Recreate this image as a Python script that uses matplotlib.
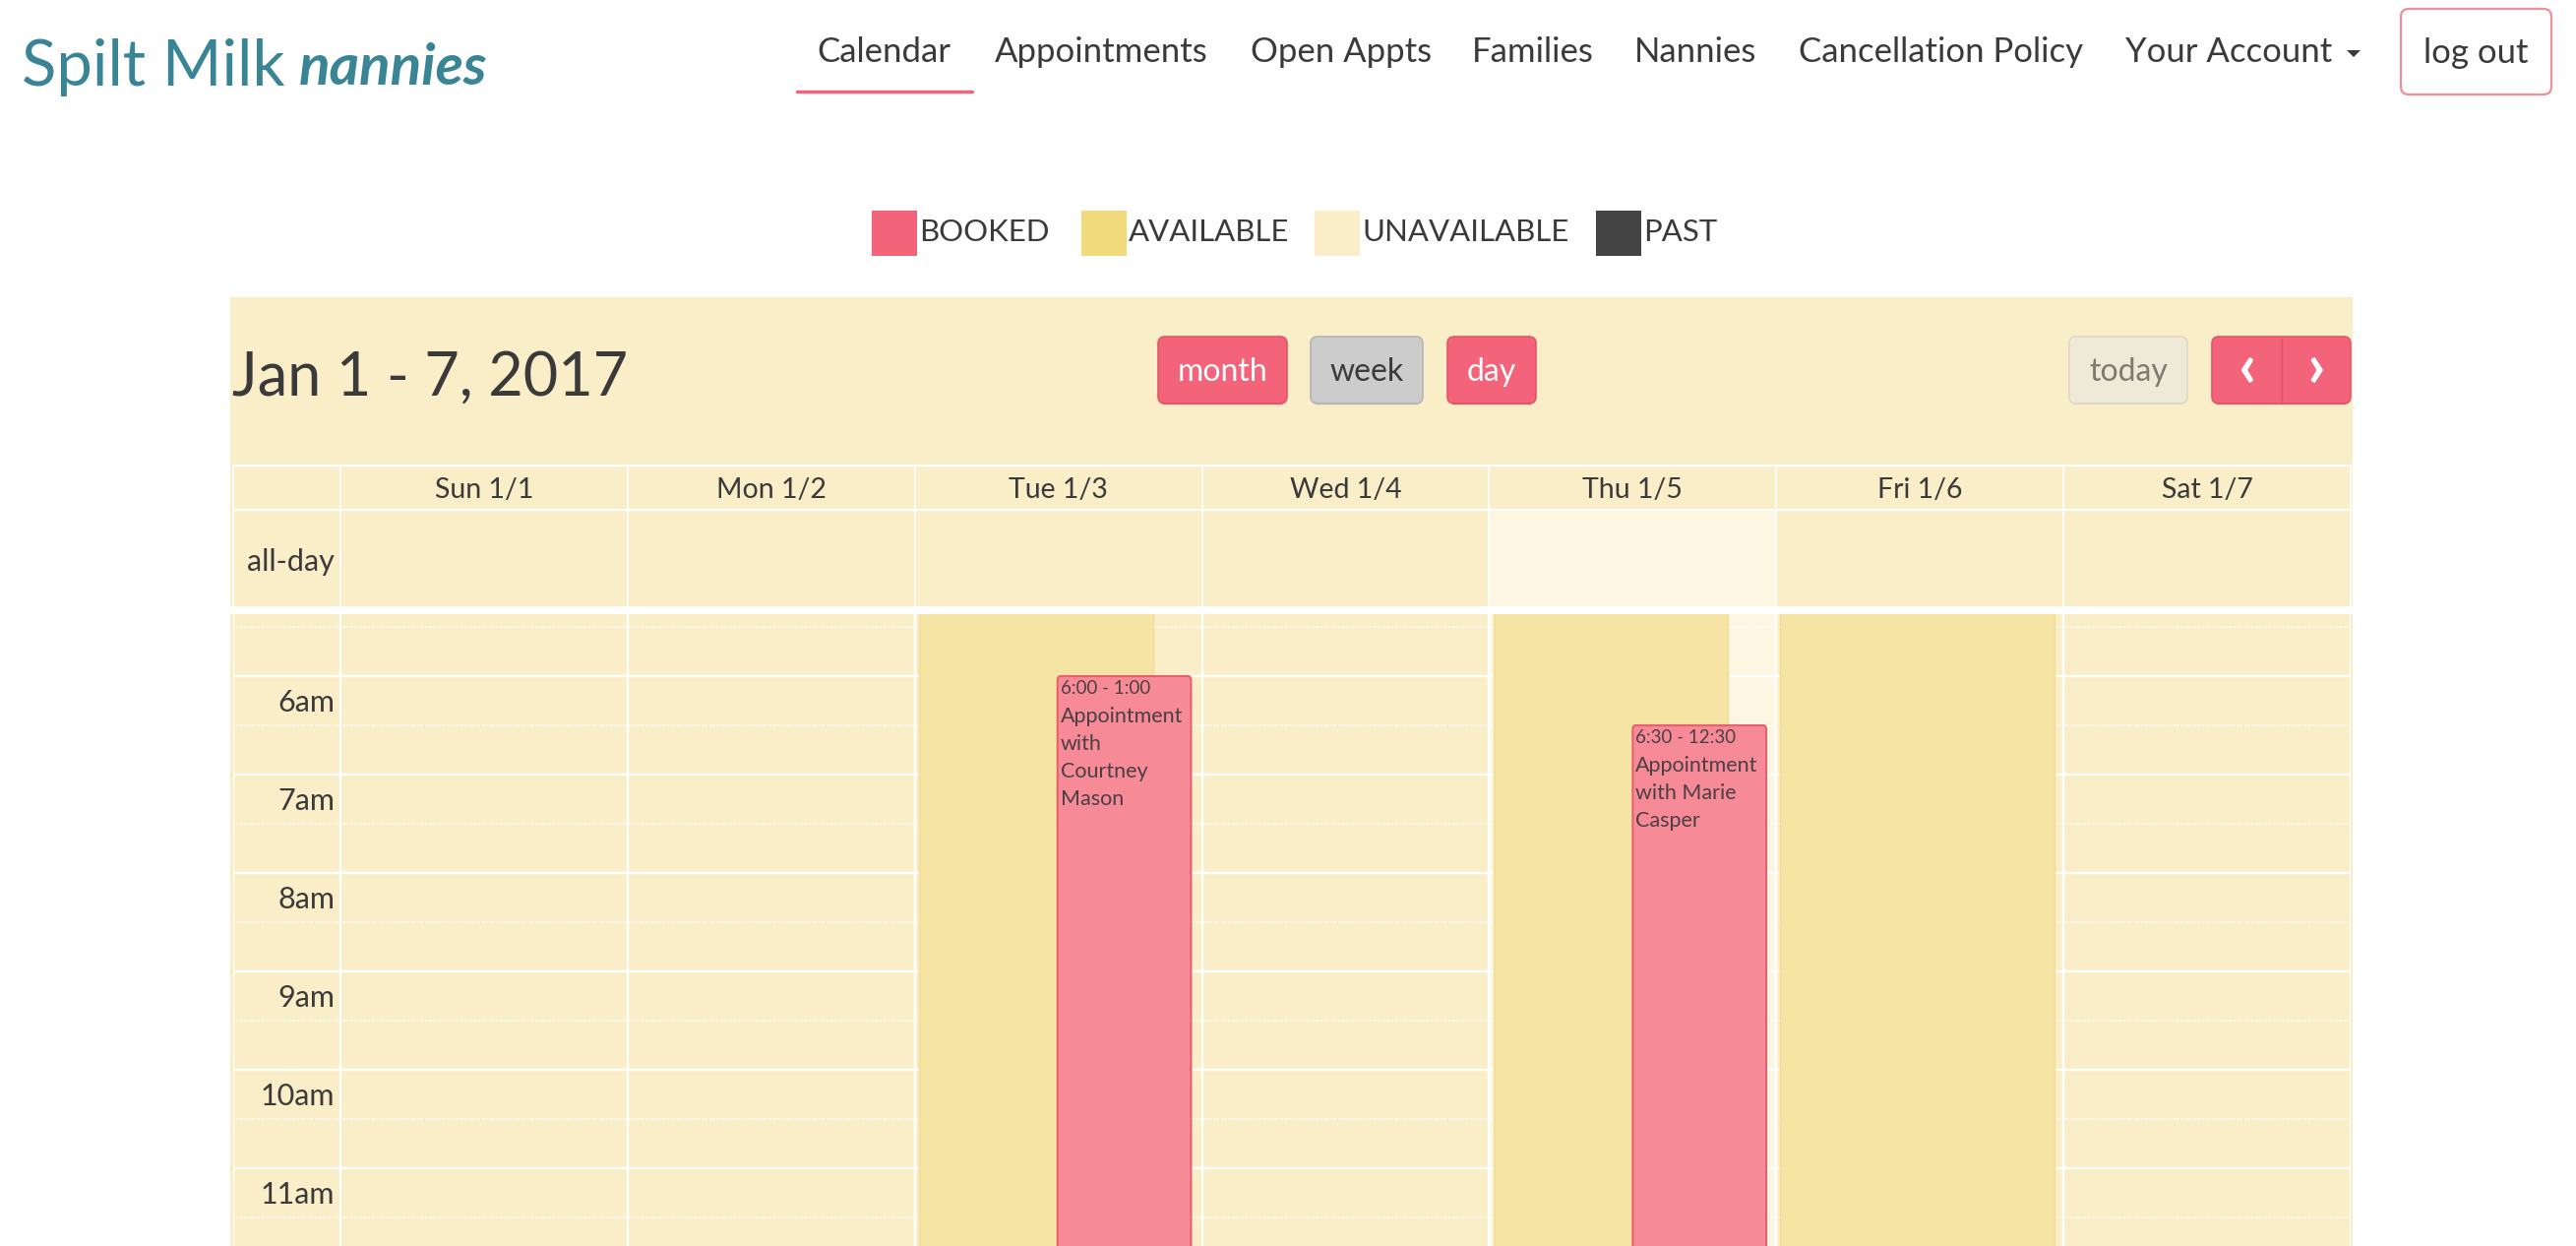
import matplotlib
matplotlib.use('Agg')
import matplotlib.pyplot as plt
from matplotlib.patches import Rectangle, FancyBboxPatch, Polygon

plt.rcParams['font.family'] = ['Lato', 'DejaVu Sans']

# chart data
nav_items = ['Calendar', 'Appointments', 'Open Appts', 'Families', 'Nannies',
             'Cancellation Policy', 'Your Account']
legend_labels = ['BOOKED', 'AVAILABLE', 'UNAVAILABLE', 'PAST']
day_labels = ['Sun 1/1', 'Mon 1/2', 'Tue 1/3', 'Wed 1/4', 'Thu 1/5', 'Fri 1/6', 'Sat 1/7']
hour_values = [5, 6, 7, 8, 9, 10, 11]
hour_labels = ['5am', '6am', '7am', '8am', '9am', '10am', '11am']

# availability blocks, x in day columns, y in hours of the day
avail_x0 = [2.014, 4.017, 5.014]
avail_x1 = [2.83, 4.83, 5.97]
avail_start = [5, 5, 5]
avail_end = [13, 13, 13]

# booked appointments
event_x0 = [2.497, 4.5]
event_x1 = [2.962, 4.965]
event_start = [6.0, 6.5]
event_end = [13.0, 12.5]
event_times = ['6:00 - 1:00', '6:30 - 12:30']
event_titles = [['Appointment', 'with', 'Courtney', 'Mason'],
                ['Appointment', 'with Marie', 'Casper']]

today_column = 4

W, H = 2618, 1266
CREAM = '#faeec8'
LIGHT = '#fdf6e2'
GOLD = '#f6e4a5'
RED = '#f3637a'
PINK = '#f78a97'
INK = '#3a3a3a'
TEAL = '#3a8595'

fig = plt.figure(figsize=(W / 100, H / 100), dpi=100, facecolor='white')

# page axes in image pixels, for the site chrome around the calendar
page = fig.add_axes([0, 0, 1, 1])
page.set_xlim(0, W)
page.set_ylim(H, 0)
page.axis('off')


def button(x0, x1, y0, y1, color, edge, label=None, txt='white', size=23):
    page.add_patch(FancyBboxPatch((x0 + 5, y0 + 5), x1 - x0 - 10, y1 - y0 - 10,
                                  boxstyle='round,pad=5,rounding_size=7',
                                  fc=color, ec=edge, lw=1.2, zorder=4))
    page.plot([x0 + 6, x1 - 6], [y1, y1], color=edge, lw=1.6, zorder=4)
    if label:
        page.text((x0 + x1) / 2, (y0 + y1) / 2 + 2, label, color=txt, fontsize=size,
                  ha='center', va='center', zorder=5)


# logo
page.text(22, 87, 'Spilt Milk', color=TEAL, fontsize=47, va='baseline', ha='left')
page.text(304, 86, 'nannies', color=TEAL, fontsize=42, va='baseline', ha='left',
          style='italic', weight='bold')

# nav
nav_x = [898, 1119, 1363, 1558, 1723, 1972, 2265]
for label, x in zip(nav_items, nav_x):
    page.text(x, 53, label, color=INK, fontsize=25, ha='center', va='center')
page.plot([810, 988], [93, 93], color=RED, lw=2.5, solid_capstyle='round')
page.add_patch(Polygon([[2385, 51], [2399, 51], [2392, 58]], fc=INK, ec='none'))
page.add_patch(FancyBboxPatch((2447, 16), 139, 73, boxstyle='round,pad=7,rounding_size=8',
                              fc='white', ec='#f28d9b', lw=1.6))
page.text(2516, 54, 'log out', color=INK, fontsize=25, ha='center', va='center')

# legend
legend_colors = [RED, '#f0da7c', CREAM, '#444444']
swatch_x = [886, 1099, 1336, 1622]
for label, color, x in zip(legend_labels, legend_colors, swatch_x):
    page.add_patch(Rectangle((x, 214), 46, 46, fc=color, ec='none'))
    page.text(x + 48, 236, label, color=INK, fontsize=22.4, ha='left', va='center')

# calendar toolbar and header
page.add_patch(Rectangle((234, 302), 2157, H - 302, fc=CREAM, ec='none', zorder=1))
page.text(236, 384, 'Jan 1 - 7, 2017', color=INK, fontsize=44, ha='left', va='center', zorder=3)
button(1177, 1308, 342, 410, RED, '#e2566c', 'month')
button(1332, 1446, 342, 410, '#cccccc', '#b5b5b5', 'week', txt=INK)
button(1471, 1561, 342, 410, RED, '#e2566c', 'day')
button(2103, 2223, 342, 410, '#efe9d8', '#ded8c6', 'today', txt='#7d7a70')
button(2248, 2389, 342, 410, RED, '#e2566c')
page.plot([2319, 2319], [344, 408], color='#dd5569', lw=1, zorder=5)
page.text(2283, 374, '\u2039', color='white', fontsize=46, weight='bold', ha='center', va='center', zorder=5)
page.text(2354, 374, '\u203a', color='white', fontsize=46, weight='bold', ha='center', va='center', zorder=5)

# white gap between the all-day row and the time grid
page.add_patch(Rectangle((234, 616), 2157, 8, fc='white', ec='none', zorder=2))

x_min = (237 - 346) / 291.9

# header and all-day rows
head = fig.add_axes([237 / W, 1 - 616 / H, (2389 - 237) / W, (616 - 473) / H])
head.set_xlim(x_min, 7)
head.set_ylim(616, 473)
head.axis('off')
head.add_patch(Rectangle((today_column, 518), 1, 98, fc=LIGHT, ec='none'))
for y in (473, 518):
    head.plot([x_min, 7], [y, y], color='white', lw=1.6, clip_on=False)
for x in [x_min] + list(range(8)):
    head.plot([x, x], [473, 616], color='white', lw=1.3, clip_on=False)
for i, label in enumerate(day_labels):
    head.text(i + 0.5, 498, label, color=INK, fontsize=20.5, ha='center', va='center')
head.text(-0.02, 571, 'all-day', color=INK, fontsize=22, ha='right', va='center')

# time grid, y axis in hours of the day
cal = fig.add_axes([237 / W, 0, (2389 - 237) / W, (H - 624) / H])
cal.set_xlim(x_min, 7)
cal.set_ylim(11.79, 5.37)
cal.axis('off')

cal.add_patch(Rectangle((today_column, 5), 1, 9, fc=LIGHT, ec='none', zorder=1))
for h in range(5, 13):
    cal.plot([x_min, 7], [h, h], color='white', lw=1.7, zorder=2)
    cal.plot([x_min, 7], [h + 0.5, h + 0.5], color='white', lw=1.3, ls=(0, (1, 1)), zorder=2)
for x in [x_min] + list(range(8)):
    cal.plot([x, x], [5, 13], color='white', lw=1.7, zorder=2)

for h, label in zip(hour_values, hour_labels):
    cal.text(-0.02, h + 0.27, label, color=INK, fontsize=22, ha='right', va='center', clip_on=True)

for x0, x1, y0, y1 in zip(avail_x0, avail_x1, avail_start, avail_end):
    cal.add_patch(Rectangle((x0, y0), x1 - x0, y1 - y0, fc=GOLD, ec='#f2dd95', lw=1, zorder=3))

for i in range(len(event_times)):
    x0, x1, y0, y1 = event_x0[i], event_x1[i], event_start[i], event_end[i]
    cal.add_patch(FancyBboxPatch((x0, y0), x1 - x0, y1 - y0,
                                 boxstyle='round,pad=0,rounding_size=0.01',
                                 fc=PINK, ec='#e8606f', lw=1.5, zorder=4, mutation_aspect=4.5))
    cal.text(x0 + 0.01, y0 + 0.125, event_times[i], color='#4a3f42', fontsize=13.5,
             ha='left', va='center', zorder=5)
    for j, line in enumerate(event_titles[i]):
        cal.text(x0 + 0.01, y0 + 0.405 + 0.28 * j, line, color='#4a3f42', fontsize=15.5,
                 ha='left', va='center', zorder=5)

fig.savefig('out.png', dpi=100, facecolor='white')
